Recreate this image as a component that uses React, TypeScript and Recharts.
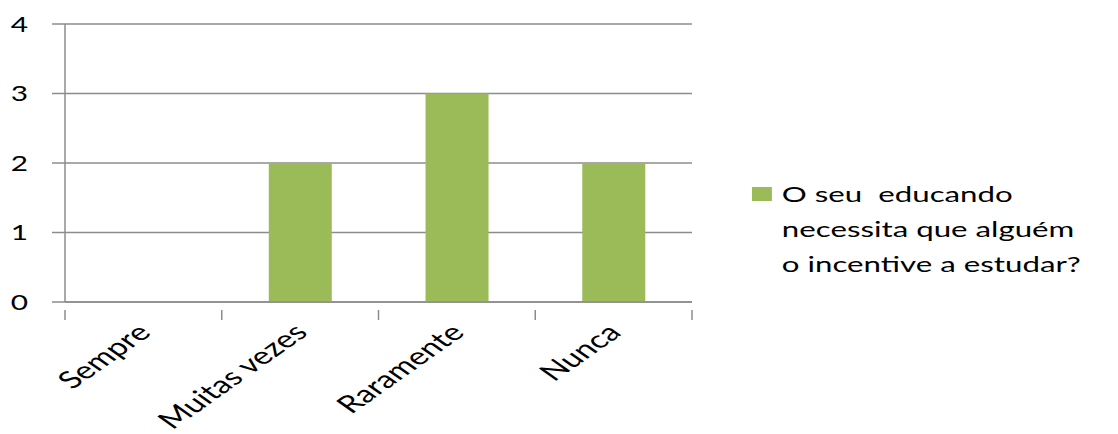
import { BarChart, Bar, XAxis, YAxis, CartesianGrid, Legend } from 'recharts';

const categories = ['Sempre', 'Muitas vezes', 'Raramente', 'Nunca'];
const values = [0, 2, 3, 2];
const yTicks = [0, 1, 2, 3, 4];
const seriesName = 'O seu educando necessita que alguém o incentive a estudar?';
const legendLines = ['O seu  educando', 'necessita que alguém', 'o incentive a estudar?'];

const data = categories.map((name, i) => ({ name, value: values[i] }));

const FONT = 'Lato, "Open Sans", sans-serif';
const STRETCH = 1.42;
const GREEN = '#9BBB59';
const GRID = '#8c8c8c';

const XTick = (props: any) => {
  const { x, y, payload, index, width, visibleTicksCount } = props;
  const band = width / visibleTicksCount;
  const last = index === visibleTicksCount - 1;
  return (
    <g>
      <line x1={x - band / 2} x2={x - band / 2} y1={y} y2={y + 10} stroke={GRID} strokeWidth={1.5} />
      {last && <line x1={x + band / 2} x2={x + band / 2} y1={y} y2={y + 10} stroke={GRID} strokeWidth={1.5} />}
      <g transform={`translate(${x + 9},${y + 24}) scale(${STRETCH},1)`}>
        <text transform="rotate(-45)" textAnchor="end" fontFamily={FONT} fontSize={24} fill="#000">
          {payload.value}
        </text>
      </g>
    </g>
  );
};

const YTick = (props: any) => {
  const { x, y, payload } = props;
  return (
    <g transform={`translate(${x},${y}) scale(${STRETCH},1)`}>
      <text textAnchor="end" dy="0.36em" fontFamily={FONT} fontSize={21} fill="#000">
        {payload.value}
      </text>
    </g>
  );
};

const LegendBox = () => (
  <div style={{ transform: `scaleX(${STRETCH})`, transformOrigin: 'left top', display: 'flex', fontFamily: FONT, fontSize: 22, lineHeight: '35px', color: '#000' }}>
    <span style={{ width: 14, height: 14, background: GREEN, marginTop: 11, marginRight: 7, flexShrink: 0 }} />
    <div style={{ whiteSpace: 'pre' }}>
      {legendLines.map((l) => (
        <div key={l}>{l}</div>
      ))}
    </div>
  </div>
);

export default function App() {
  return (
    <BarChart
      width={1110}
      height={426}
      data={data}
      margin={{ top: 16, right: 426, left: 0, bottom: 0 }}
      barCategoryGap="30%"
    >
      <CartesianGrid vertical={false} stroke={GRID} strokeWidth={1.5} />
      <XAxis
        dataKey="name"
        height={132}
        tickLine={false}
        axisLine={{ stroke: GRID, strokeWidth: 1.5 }}
        tick={<XTick />}
        interval={0}
      />
      <YAxis
        width={57}
        domain={[0, 4]}
        ticks={yTicks}
        tickSize={13}
        tickMargin={24}
        tickLine={{ stroke: GRID, strokeWidth: 1.5 }}
        axisLine={{ stroke: GRID, strokeWidth: 1.5 }}
        tick={<YTick />}
      />
      <YAxis
        yAxisId="border"
        orientation="right"
        width={0}
        tick={false}
        tickLine={false}
        axisLine={{ stroke: '#d9d9d9', strokeWidth: 1.5 }}
      />
      <Legend
        layout="vertical"
        align="center"
        verticalAlign="middle"
        wrapperStyle={{ left: 744, top: 168, width: 360 }}
        content={<LegendBox />}
      />
      <Bar dataKey="value" name={seriesName} fill={GREEN} isAnimationActive={false} />
    </BarChart>
  );
}
